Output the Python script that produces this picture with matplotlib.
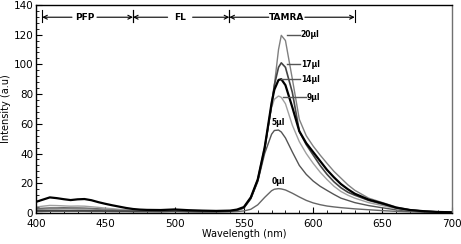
import matplotlib
matplotlib.use('Agg')
import matplotlib.pyplot as plt
from matplotlib.ticker import MultipleLocator

#  ----------------- data
#
wl = [400, 405, 410, 415, 420, 425, 430, 435, 440, 445, 450, 455, 460, 465, 470,
      475, 480, 490, 500, 510, 520, 530, 540, 545, 550, 555, 560, 565, 570, 572,
      575, 577, 580, 585, 590, 595, 600, 605, 610, 615, 620, 625, 630, 640, 650,
      660, 670, 680, 690, 700]

ul20 = [2.5, 2.6, 2.8, 2.8, 2.9, 2.9, 2.8, 2.8, 2.7, 2.5, 2.3, 2.1, 1.9, 1.7, 1.5,
        1.4, 1.3, 1.2, 1.3, 1.2, 1.1, 1.1, 1.3, 2.0, 3.5, 10.0, 22.0, 43.0, 72.0, 86.0,
        110.0, 119.5, 116.0, 90.0, 63.0, 52.0, 45.0, 39.0, 33.4, 28.0, 23.5, 19.0, 15.3, 10.0, 7.0,
        4.0, 2.2, 1.3, 0.8, 0.5]
ul17 = [1.5, 1.5, 1.6, 1.6, 1.6, 1.6, 1.6, 1.6, 1.5, 1.5, 1.4, 1.4, 1.3, 1.3, 1.2,
        1.2, 1.2, 1.1, 1.3, 1.1, 1.0, 1.0, 1.2, 1.9, 3.5, 10.0, 22.0, 43.0, 73.0, 86.0,
        98.0, 101.0, 98.0, 81.0, 55.0, 46.0, 39.0, 32.0, 26.0, 21.0, 17.0, 14.0, 12.0, 8.5, 6.0,
        3.5, 2.0, 1.2, 0.7, 0.5]
ul14 = [7.5, 9.0, 10.5, 10.0, 9.3, 8.7, 9.2, 9.4, 8.6, 7.3, 6.2, 5.2, 4.3, 3.4, 2.7,
        2.3, 2.1, 2.0, 2.4, 1.9, 1.6, 1.4, 1.6, 2.3, 4.0, 10.5, 22.5, 44.0, 74.0, 83.0,
        89.5, 90.0, 86.0, 71.0, 55.0, 47.0, 41.0, 35.0, 29.0, 24.0, 19.5, 16.0, 13.0, 9.0, 6.5,
        3.6, 2.0, 1.2, 0.7, 0.5]
ul9 = [4.0, 4.6, 5.1, 5.0, 4.8, 4.6, 4.7, 4.6, 4.2, 3.8, 3.3, 2.9, 2.5, 2.2, 1.9,
       1.7, 1.6, 1.5, 1.7, 1.5, 1.3, 1.2, 1.4, 2.1, 3.8, 10.5, 23.0, 45.0, 71.0, 76.5,
       78.7, 77.8, 73.5, 59.0, 48.0, 40.0, 33.4, 27.5, 22.5, 18.0, 14.5, 12.0, 10.0, 7.0, 5.0,
       2.9, 1.7, 1.0, 0.6, 0.4]
ul5 = [3.0, 3.2, 3.4, 3.4, 3.5, 3.4, 3.4, 3.3, 3.1, 2.8, 2.5, 2.2, 2.0, 1.8, 1.6,
       1.5, 1.4, 1.3, 1.5, 1.3, 1.2, 1.1, 1.2, 1.8, 3.3, 9.5, 21.0, 40.0, 53.0, 55.5,
       55.8, 54.5, 50.5, 41.0, 32.0, 26.0, 21.5, 18.0, 15.2, 12.5, 10.0, 8.5, 7.0, 5.0, 3.5,
       2.1, 1.3, 0.8, 0.5, 0.3]
ul0 = [1.0, 1.0, 1.1, 1.1, 1.1, 1.1, 1.1, 1.1, 1.0, 1.0, 1.0, 0.9, 0.9, 0.9, 0.8,
       0.8, 0.8, 0.8, 0.9, 0.8, 0.7, 0.7, 0.8, 1.0, 1.4, 2.5, 5.5, 10.5, 15.0, 16.0,
       16.4, 16.2, 15.5, 13.3, 10.8, 8.5, 6.8, 5.6, 4.7, 4.1, 3.6, 3.2, 2.8, 2.2, 1.6,
       1.1, 0.8, 0.6, 0.4, 0.3]

series = [ul0, ul5, ul9, ul20, ul17, ul14]
colours = ['#666666', '#555555', '#a0a0a0', '#808080', '#444444', '#000000']
widths  = [1.0, 1.0, 1.0, 1.0, 1.2, 1.6]

# label text, x, y of text, x of the line start on the curve
labels   = ['20\u00b5l', '17\u00b5l', '14\u00b5l', '9\u00b5l', '5\u00b5l', '0\u00b5l']
lab_x    = [591, 591, 591, 595, 575, 575]
lab_y    = [120, 100, 90, 78, 61, 21]
line_x0  = [581, 581, 577, 578, None, None]

regions  = ['PFP', 'FL', 'TAMRA']
reg_lo   = [404.5, 470, 539.5]
reg_hi   = [470, 539.5, 630]
reg_mid  = [435, 504, 581]


#  ----------------- plotting
#
plt.rcParams['font.family'] = 'DejaVu Sans'
plt.rcParams['font.size'] = 7

fig = plt.figure(figsize=(4.61, 2.44), dpi=100)
ax = fig.add_axes([0.078, 0.127, 0.902, 0.853])

for ys, c, w in zip(series, colours, widths):
	ax.plot(wl, ys, color=c, lw=w)

for t, tx, ty, x0 in zip(labels, lab_x, lab_y, line_x0):
	if x0 is not None:
		ax.plot([x0, tx - 0.5], [ty, ty], color='#555555', lw=1.0)
	ax.text(tx, ty, t, fontsize=5.5, fontweight='bold', va='center',
		ha='left' if x0 is not None else 'center')

ya = 131.7
for name, lo, hi, mid in zip(regions, reg_lo, reg_hi, reg_mid):
	gap = 9 if len(name) < 4 else 13
	for end in (lo, hi):
		ax.annotate('', xy=(end, ya), xytext=(mid, ya),
			arrowprops=dict(arrowstyle='->', lw=0.8, color='black', shrinkA=gap, shrinkB=0))
		ax.plot([end, end], [128.8, 136.7], color='black', lw=0.8)
	ax.text(mid, ya, name, fontsize=6.5, fontweight='bold', ha='center', va='center')

ax.set_xlim(400, 700)
ax.set_ylim(0, 140)
ax.xaxis.set_major_locator(MultipleLocator(50))
ax.xaxis.set_minor_locator(MultipleLocator(10))
ax.yaxis.set_major_locator(MultipleLocator(20))
ax.yaxis.set_minor_locator(MultipleLocator(4))
ax.tick_params(which='both', direction='in', top=False, right=False, labelsize=7.5, pad=2)
ax.tick_params(axis='x', pad=4.5)
ax.tick_params(which='major', length=4)
ax.tick_params(which='minor', length=2)
ax.set_xlabel('Wavelength (nm)', fontsize=7, labelpad=0)
ax.set_ylabel('Intensity (a.u)', fontsize=7, labelpad=2)
for s in ax.spines.values():
	s.set_linewidth(1.0)
ax.spines['right'].set_color('#707070')

plt.savefig('out.png', dpi=100)
